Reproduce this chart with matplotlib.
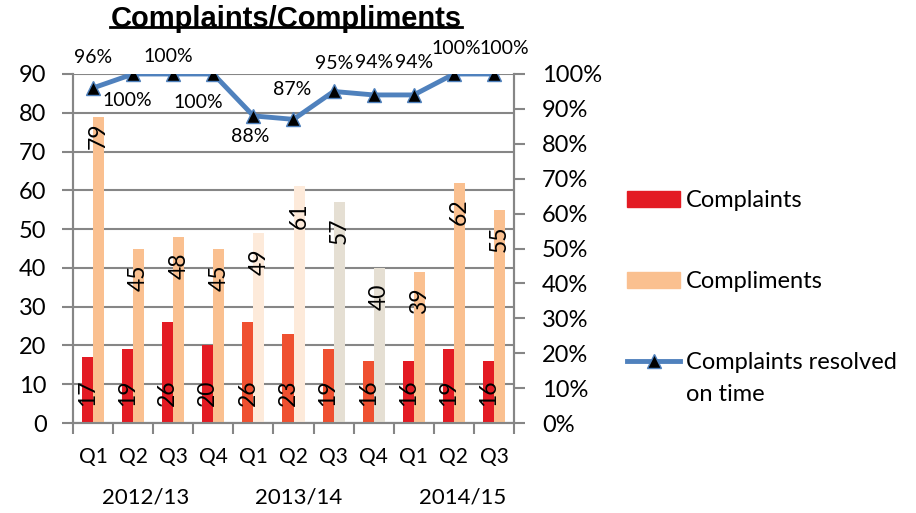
import matplotlib
matplotlib.use("Agg")
import matplotlib.pyplot as plt
from matplotlib.patches import Patch
from matplotlib.lines import Line2D
import numpy as np

# ---------------- data ----------------
quarters = ["Q1", "Q2", "Q3", "Q4", "Q1", "Q2", "Q3", "Q4", "Q1", "Q2", "Q3"]
years = ["2012/13", "2013/14", "2014/15"]
year_groups = [(0, 3), (4, 7), (8, 10)]
complaints = [17, 19, 26, 20, 26, 23, 19, 16, 16, 19, 16]
compliments = [79, 45, 48, 45, 49, 61, 57, 40, 39, 62, 55]
resolved = [0.96, 1.00, 1.00, 1.00, 0.88, 0.87, 0.95, 0.94, 0.94, 1.00, 1.00]
resolved_labels = ["96%", "100%", "100%", "100%", "88%", "87%", "95%", "94%", "94%", "100%", "100%"]

# ---------------- style ----------------
RED = "#E31B23"
RED2 = "#EF5030"
PEACH = "#FAC090"
PALE = "#FDEADA"
GREYB = "#E5DFD3"
complaint_colors = [RED] * 4 + [RED2] * 4 + [RED] * 3
compliment_colors = [PEACH] * 4 + [PALE] * 2 + [GREYB] * 2 + [PEACH] * 3
LINE_BLUE = "#4F81BD"
GRID = "#868686"
FONT = "Lato"
FS_TICK = 17
FS_LEG = 17
FS_BAR = 16.5
FS_LINE = 14
FS_Q = 15
FS_YEAR = 16
# offsets (pixels) for line labels
line_label_offsets = [(0, 30), (-6, -27), (-5, 18), (-15, -29), (-3, -21), (-1, 30),
                      (1, 28), (0, 32), (0, 32), (2, 26), (10, 26)]
compliment_label_pad = [-6] + [-16] * 10
year_offsets = [-0.18, -0.38, 0.22]

plt.rcParams["font.family"] = [FONT, "DejaVu Sans"]

fig = plt.figure(figsize=(9.16, 5.13), dpi=100)
ax = fig.add_axes([73 / 916, 1 - 423 / 513, (514 - 73) / 916, (423 - 74) / 513])
ax2 = ax.twinx()

x = np.arange(len(quarters))
bw = 0.275
ax.bar(x - bw / 2, complaints, bw, color=complaint_colors, zorder=3)
ax.bar(x + bw / 2, compliments, bw, color=compliment_colors, zorder=3)

for i, v in enumerate(complaints):
    ax.annotate(str(v), (x[i] - bw / 2, 0), xytext=(0, 17), textcoords="offset pixels",
                rotation=90, ha="center", va="bottom", fontsize=FS_BAR, zorder=5)
for i, v in enumerate(compliments):
    ax.annotate(str(v), (x[i] + bw / 2, v), xytext=(0, compliment_label_pad[i]),
                textcoords="offset pixels", rotation=90, ha="center", va="top",
                fontsize=FS_BAR, zorder=5)

ax.set_xlim(-0.5, len(quarters) - 0.5)
ax.set_ylim(0, 90)
ax.set_yticks(np.arange(0, 91, 10))
ax.yaxis.grid(True, color=GRID, linewidth=1.5, zorder=0)
ax.set_axisbelow(True)
ax.set_xticks(x)
ax.set_xticklabels(quarters, fontsize=FS_Q)
ax.set_xticks(np.arange(-0.5, len(quarters), 1), minor=True)
ax.tick_params(axis="x", which="major", length=0, pad=17)
ax.tick_params(axis="x", which="minor", length=8, width=1.5, color=GRID)
ax.tick_params(axis="y", length=8, width=1.5, color=GRID, labelsize=FS_TICK, pad=11)

for a in (ax, ax2):
    a.spines["top"].set_visible(False)
    for s in ("left", "right", "bottom"):
        a.spines[s].set_color(GRID)
        a.spines[s].set_linewidth(1.5)

ax2.set_ylim(0, 1.0)
ax2.set_yticks(np.arange(0, 1.01, 0.1))
ax2.set_yticklabels([f"{int(round(t * 100))}%" for t in np.arange(0, 1.01, 0.1)])
ax2.tick_params(axis="y", length=8, width=1.5, color=GRID, labelsize=FS_TICK, pad=12)

ax2.plot(x, resolved, color=LINE_BLUE, linewidth=3.5, marker="^", markersize=10.5,
         markerfacecolor="black", markeredgecolor=LINE_BLUE, markeredgewidth=1, zorder=4)
for i, v in enumerate(resolved):
    ax2.annotate(resolved_labels[i], (x[i], v), xytext=line_label_offsets[i],
                 textcoords="offset pixels", ha="center", va="center", fontsize=FS_LINE,
                 annotation_clip=False)

# year group labels
for (a0, a1), yl, off in zip(year_groups, years, year_offsets):
    ax.annotate(yl, ((a0 + a1) / 2 + off, 0), xytext=(0, -74), textcoords="offset pixels",
                ha="center", va="center", fontsize=FS_YEAR, annotation_clip=False)

# legend
handles = [Patch(color=RED), Patch(color=PEACH),
           Line2D([], [], color=LINE_BLUE, linewidth=3.5, marker="^", markersize=10.5,
                  markerfacecolor="black", markeredgecolor=LINE_BLUE)]
labels = ["Complaints", "Compliments", "Complaints resolved"]
leg = fig.legend(handles, labels, loc="upper left", bbox_to_anchor=(627 / 916, 1 - 190 / 513),
                 frameon=False, fontsize=FS_LEG, handlelength=2.25, handleheight=0.65,
                 handletextpad=0.26, labelspacing=2.55, borderaxespad=0, borderpad=0)

# title with underline
title = fig.text(286 / 916, 1 - 19 / 513, "Complaints/Compliments", ha="center", va="center",
                 fontsize=21, fontweight="bold", family=["Liberation Sans", "DejaVu Sans"])
fig.canvas.draw()
bb = title.get_window_extent()
uy = (bb.y0 + 6) / fig.bbox.height
fig.add_artist(Line2D([bb.x0 / fig.bbox.width, bb.x1 / fig.bbox.width], [uy, uy],
                      transform=fig.transFigure, color="black", linewidth=2))

# second line of the last legend label
tb = leg.get_texts()[2].get_window_extent()
fig.text(tb.x0 / fig.bbox.width, (tb.y0 - 32) / fig.bbox.height, "on time",
         ha="left", va="bottom", fontsize=FS_LEG)

fig.savefig("out.png", dpi=100)
